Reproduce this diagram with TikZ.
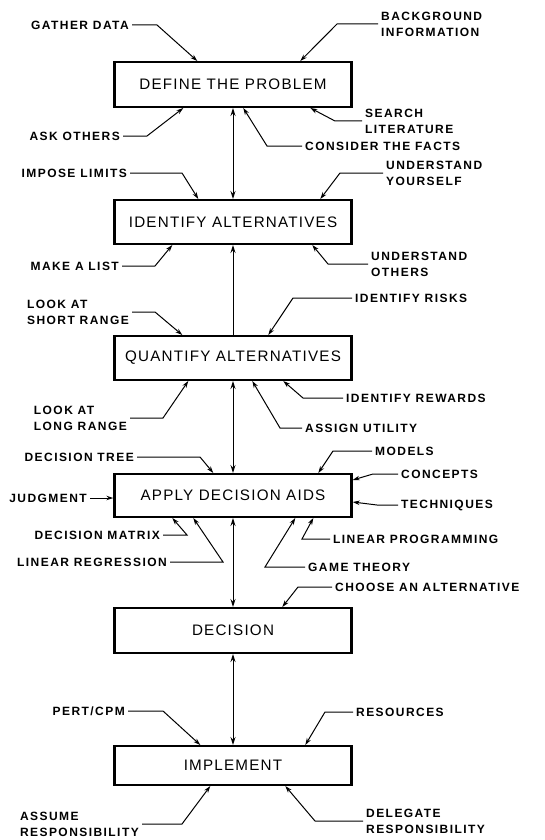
\documentclass[tikz,border=0pt]{standalone}
\usepackage{fontspec}
\setmainfont{Liberation Sans}
\newfontfamily\lblfont{Liberation Sans}[LetterSpace=12]
\newfontfamily\boxfont{Liberation Sans}[LetterSpace=8]
\usetikzlibrary{arrows.meta}
\begin{document}
\begin{tikzpicture}[x=1pt,y=-1pt,
  stepbox/.style={draw, line width=2.4pt, minimum width=237pt, inner sep=0pt,
    font=\boxfont\fontsize{15.2}{18}\selectfont},
  lbl/.style={inner sep=3pt, align=left, font=\lblfont\bfseries\fontsize{12}{16}\selectfont},
  lblL/.style={lbl, anchor=east},
  lblR/.style={lbl, anchor=west},
  feed/.style={line width=1pt, -{Stealth[length=7pt,width=4.5pt]}},
  flow/.style={line width=1pt, {Stealth[length=8pt,width=5pt]}-{Stealth[length=8pt,width=5pt]}},
  upflow/.style={line width=1pt, -{Stealth[length=8pt,width=5pt]}},
]
\useasboundingbox (0,0) rectangle (544,840);

% main chain of steps
\node[stepbox, minimum height=44.6pt] (b1) at (233,84.5) {DEFINE THE PROBLEM};
\node[stepbox, minimum height=43.6pt] (b2) at (233,222) {IDENTIFY ALTERNATIVES};
\node[stepbox, minimum height=43.6pt] (b3) at (233,358) {QUANTIFY ALTERNATIVES};
\node[stepbox, minimum height=42.6pt] (b4) at (233,495.5) {APPLY DECISION AIDS};
\node[stepbox, minimum height=44.6pt] (b5) at (233,630.5) {DECISION};
\node[stepbox, minimum height=38.6pt] (b6) at (233,765.5) {IMPLEMENT};

\draw[flow] (b1.south) -- (b2.north);
\draw[upflow] (b3.north) -- (b2.south);
\draw[flow] (b3.south) -- (b4.north);
\draw[flow] (b4.south) -- (b5.north);
\draw[flow] (b5.south) -- (b6.north);

% inputs to DEFINE THE PROBLEM
\node[lblL] (gd) at (132,25) {GATHER DATA};
\draw[feed] (gd.east) -- ++(25,0) -- ([xshift=84pt]b1.north west);
\node[lblR] (bi) at (378,24) {BACKGROUND\\INFORMATION};
\draw[feed] (bi.west) -- ++(-41,0) -- ([xshift=187pt]b1.north west);
\node[lblL] (ao) at (123,136) {ASK OTHERS};
\draw[feed] (ao.east) -- ++(24,0) -- ([xshift=70pt]b1.south west);
\node[lblR] (sl) at (362,121) {SEARCH\\LITERATURE};
\draw[feed] (sl.west) -- ++(-27,0) -- ([xshift=197pt]b1.south west);
\node[lblR] (cf) at (302,146) {CONSIDER THE FACTS};
\draw[feed] (cf.west) -- ++(-35,0) -- ([xshift=130pt]b1.south west);

% inputs to IDENTIFY ALTERNATIVES
\node[lblL] (il) at (130,173) {IMPOSE LIMITS};
\draw[feed] (il.east) -- ++(52,0) -- ([xshift=85pt]b2.north west);
\node[lblR] (uy) at (383,173) {UNDERSTAND\\YOURSELF};
\draw[feed] (uy.west) -- ++(-43,0) -- ([xshift=207pt]b2.north west);
\node[lblL] (ml) at (122,266) {MAKE A LIST};
\draw[feed] (ml.east) -- ++(33,0) -- ([xshift=59pt]b2.south west);
\node[lblR] (uo) at (368,264) {UNDERSTAND\\OTHERS};
\draw[feed] (uo.west) -- ++(-40,0) -- ([xshift=199pt]b2.south west);

% inputs to QUANTIFY ALTERNATIVES
\node[lblL] (sr) at (132,312) {LOOK AT\\SHORT RANGE};
\draw[feed] (sr.east) -- ++(23,0) -- ([xshift=69pt]b3.north west);
\node[lblR] (ir) at (352,298) {IDENTIFY RISKS};
\draw[feed] (ir.west) -- ++(-59,0) -- ([xshift=155pt]b3.north west);
\node[lblL] (lr) at (130,418) {LOOK AT\\LONG RANGE};
\draw[feed] (lr.east) -- ++(33,0) -- ([xshift=75pt]b3.south west);
\node[lblR] (rw) at (343,398) {IDENTIFY REWARDS};
\draw[feed] (rw.west) -- ++(-40,0) -- ([xshift=170pt]b3.south west);
\node[lblR] (au) at (302,428) {ASSIGN UTILITY};
\draw[feed] (au.west) -- ++(-22,0) -- ([xshift=139pt]b3.south west);

% inputs to APPLY DECISION AIDS
\node[lblL] (dt) at (137,457) {DECISION TREE};
\draw[feed] (dt.east) -- ++(63,0) -- ([xshift=100pt]b4.north west);
\node[lblR] (mo) at (372,451) {MODELS};
\draw[feed] (mo.west) -- ++(-39,0) -- ([xshift=205pt]b4.north west);
\node[lblR] (co) at (398,474) {CONCEPTS};
\draw[feed] (co.west) -- ++(-25,0) -- ([yshift=-7pt]b4.north east);
\node[lblR] (te) at (398,505) {TECHNIQUES};
\draw[feed] (te.west) -- ++(-21,0) -- ([yshift=-29pt]b4.north east);
\node[lblL] (ju) at (90,498) {JUDGMENT};
\draw[feed] (ju.east) -- (ju.east -| b4.west);
\node[lblL] (dm) at (163,535) {DECISION MATRIX};
\draw[feed] (dm.east) -- ++(24,0) -- ([xshift=59pt]b4.south west);
\node[lblL] (lg) at (170,562) {LINEAR REGRESSION};
\draw[feed] (lg.east) -- ++(53,0) -- ([xshift=80pt]b4.south west);
\node[lblR] (lp) at (330,539) {LINEAR PROGRAMMING};
\draw[feed] (lp.west) -- ++(-28,0) -- ([xshift=200pt]b4.south west);
\node[lblR] (gt) at (305,567) {GAME THEORY};
\draw[feed] (gt.west) -- ++(-40,0) -- ([xshift=182pt]b4.south west);

% input to DECISION
\node[lblR] (ca) at (332,587) {CHOOSE AN ALTERNATIVE};
\draw[feed] (ca.west) -- ++(-34,0) -- ([xshift=169pt]b5.north west);

% inputs to IMPLEMENT
\node[lblL] (pc) at (128,711) {PERT/CPM};
\draw[feed] (pc.east) -- ++(35,0) -- ([xshift=87pt]b6.north west);
\node[lblR] (rs) at (353,712) {RESOURCES};
\draw[feed] (rs.west) -- ++(-28,0) -- ([xshift=192pt]b6.north west);
\node[lblL] (as) at (142,824) {ASSUME\\RESPONSIBILITY};
\draw[feed] (as.east) -- ++(40,0) -- ([xshift=97pt]b6.south west);
\node[lblR] (dr) at (363,821) {DELEGATE\\RESPONSIBILITY};
\draw[feed] (dr.west) -- ++(-48,0) -- ([xshift=172pt]b6.south west);
\end{tikzpicture}
\end{document}
